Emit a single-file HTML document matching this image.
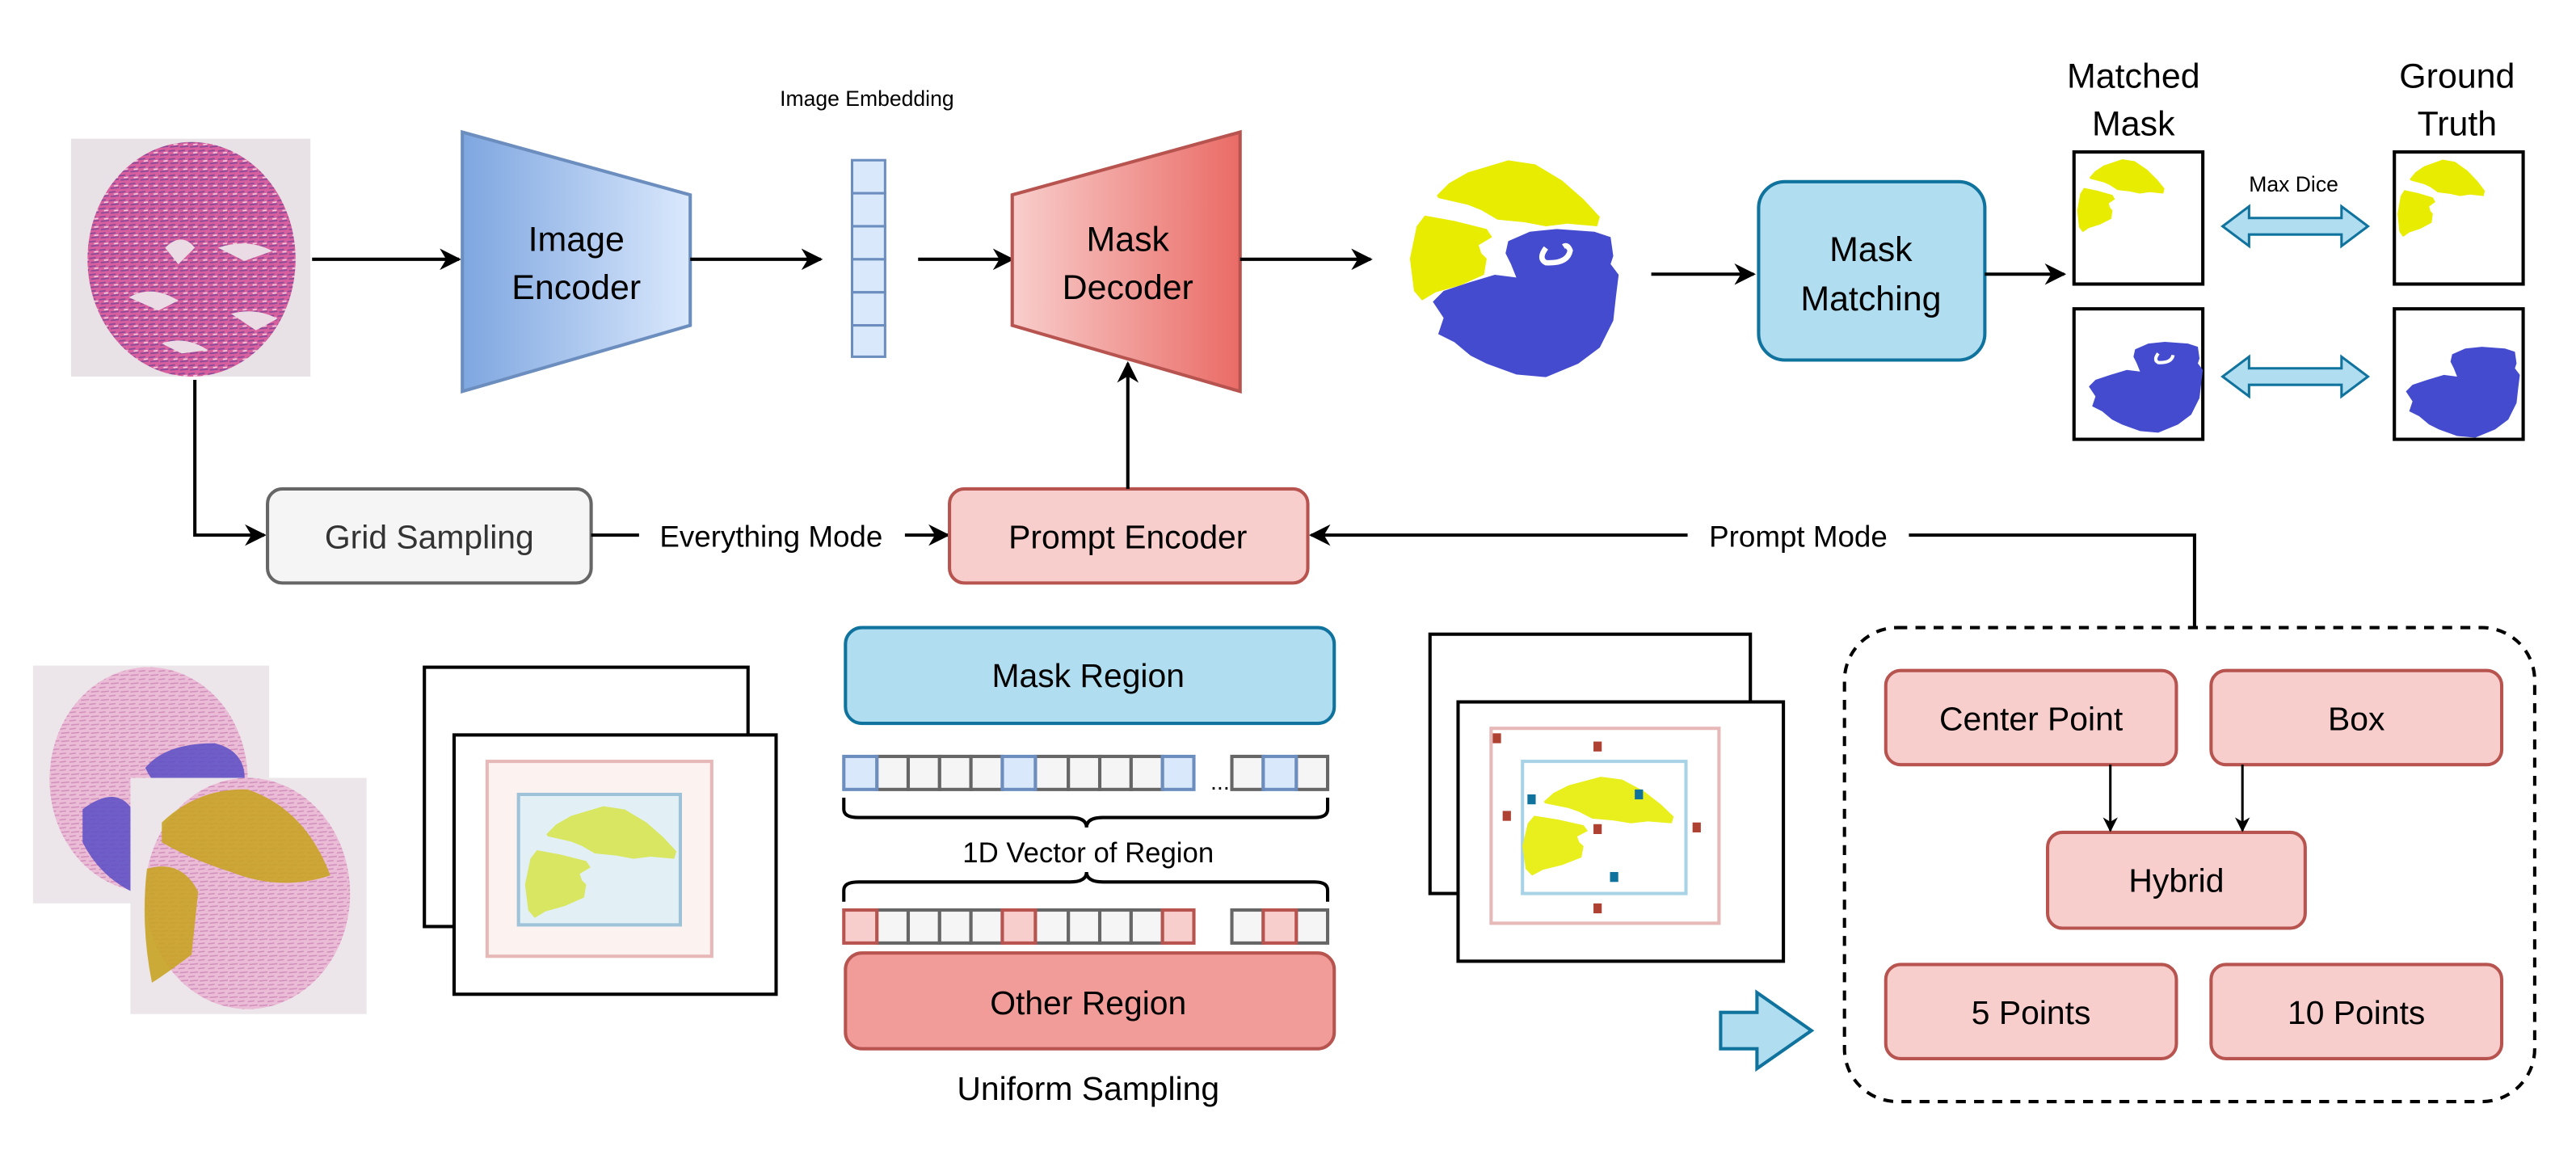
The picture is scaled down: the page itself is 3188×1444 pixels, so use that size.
<!DOCTYPE html>
<html><head><meta charset="utf-8"><style>
html,body{margin:0;padding:0;background:#fff;}
svg{display:block;}
text{font-family:"Liberation Sans",Arial,sans-serif;}
</style></head><body>
<svg width="3188" height="1444" viewBox="0 0 1560 706.6" xmlns="http://www.w3.org/2000/svg">
<defs>
<marker id="ar" viewBox="0 0 10 10" refX="9" refY="5" markerWidth="9" markerHeight="9" markerUnits="userSpaceOnUse" orient="auto">
<path d="M0,0 L10,5 L0,10 L3,5 Z" fill="#000"/></marker>
<marker id="ar2" viewBox="0 0 10 10" refX="9" refY="5" markerWidth="13" markerHeight="13" markerUnits="userSpaceOnUse" orient="auto">
<path d="M0,0 L10,5 L0,10 L3,5 Z" fill="#000"/></marker>
<linearGradient id="gb" x1="0" x2="1" y1="0" y2="0"><stop offset="0" stop-color="#7ea6e0"/><stop offset="1" stop-color="#dae8fc"/></linearGradient>
<linearGradient id="gr" x1="0" x2="1" y1="0" y2="0"><stop offset="0" stop-color="#f8cecc"/><stop offset="1" stop-color="#ea6b66"/></linearGradient>
<pattern id="tis" width="6" height="5" patternUnits="userSpaceOnUse">
<rect width="6" height="5" fill="#d9609e"/>
<path d="M0,1.5 L4,1 M1,4 L6,3.5" stroke="#8a4a98" stroke-width="0.9"/>
<path d="M3,2.6 L5.5,2.3" stroke="#f0d4e3" stroke-width="0.8"/>
</pattern>
<pattern id="tis2" width="6" height="5" patternUnits="userSpaceOnUse">
<rect width="6" height="5" fill="#ebbcd6"/>
<path d="M0,1.5 L4,1 M1,4 L6,3.5" stroke="#d08cbb" stroke-width="0.7"/>
</pattern>
<g id="yt"><path d="M115,185 L160,140 L230,100 L380,55 L480,70 L580,130 L660,200 L720,265 L710,300 L600,290 L520,300 L440,285 L340,275 L280,240 L230,220 L120,195 Z"/></g>
<g id="yl"><path d="M70,260 L180,280 L300,310 L320,340 L270,370 L280,400 L300,420 L290,480 L200,520 L110,545 L60,575 L30,540 L15,420 L40,300 Z"/></g>
<g id="bl"><path d="M380,355 L460,320 L560,310 L700,320 L760,340 L770,410 L760,440 L790,480 L780,560 L770,650 L720,750 L640,810 L520,860 L410,850 L300,810 L240,780 L180,730 L120,700 L140,640 L100,580 L140,540 L230,510 L330,480 L410,490 L390,440 L370,400 Z"/></g>
</defs>

<!-- input H&E -->
<rect x="43" y="84" width="145" height="144" fill="#e8e2e6"/>
<ellipse cx="116" cy="157" rx="63" ry="71" fill="url(#tis)"/>
<path d="M78,180 Q92,172 108,182 L96,188 Z M132,150 Q150,144 165,152 L148,158 Z M98,208 Q112,203 126,212 L110,214Z M140,190 Q155,186 168,193 L155,200Z M100,150 Q110,140 118,150 L108,160Z" fill="#eadbe4"/>

<!-- arrows top row -->
<line x1="189" y1="157" x2="278" y2="157" stroke="#000" stroke-width="2" marker-end="url(#ar2)"/>
<polygon points="280,80 418,118 418,197 280,237" fill="url(#gb)" stroke="#6c8ebf" stroke-width="2"/>
<text x="349" y="152" font-size="21" text-anchor="middle">Image</text>
<text x="349" y="181" font-size="21" text-anchor="middle">Encoder</text>
<line x1="418" y1="157" x2="497" y2="157" stroke="#000" stroke-width="2" marker-end="url(#ar2)"/>
<text x="525" y="64" font-size="13" text-anchor="middle">Image Embedding</text>
<g fill="#dae8fc" stroke="#6c8ebf" stroke-width="1.5">
<rect x="516" y="97" width="20" height="20"/><rect x="516" y="117" width="20" height="20"/><rect x="516" y="137" width="20" height="20"/><rect x="516" y="157" width="20" height="20"/><rect x="516" y="177" width="20" height="20"/><rect x="516" y="197" width="20" height="19"/>
</g>
<line x1="556" y1="157" x2="613" y2="157" stroke="#000" stroke-width="2" marker-end="url(#ar2)"/>
<polygon points="613,118 751,80 751,237 613,197" fill="url(#gr)" stroke="#b85450" stroke-width="2"/>
<text x="683" y="152" font-size="21" text-anchor="middle">Mask</text>
<text x="683" y="181" font-size="21" text-anchor="middle">Decoder</text>
<line x1="751" y1="157" x2="830" y2="157" stroke="#000" stroke-width="2" marker-end="url(#ar2)"/>

<!-- big mask -->
<g transform="translate(851.4,88.1) scale(0.1631)">
<use href="#yt" fill="#e8ec00"/><use href="#yl" fill="#e8ec00"/><use href="#bl" fill="#444bcf"/>
<path d="M520,380 Q490,420 520,435 Q600,440 610,390 Q600,365 585,375" fill="none" stroke="#fff" stroke-width="20"/>
</g>
<line x1="1000" y1="166" x2="1062" y2="166" stroke="#000" stroke-width="2" marker-end="url(#ar2)"/>
<rect x="1065" y="110" width="137" height="108" rx="16" fill="#b1ddf0" stroke="#10739e" stroke-width="2"/>
<text x="1133" y="158" font-size="21" text-anchor="middle">Mask</text>
<text x="1133" y="188" font-size="21" text-anchor="middle">Matching</text>
<line x1="1202" y1="166" x2="1250" y2="166" stroke="#000" stroke-width="2" marker-end="url(#ar2)"/>

<text x="1292" y="53" font-size="21" text-anchor="middle">Matched</text>
<text x="1292" y="82" font-size="21" text-anchor="middle">Mask</text>
<text x="1488" y="53" font-size="21" text-anchor="middle">Ground</text>
<text x="1488" y="82" font-size="21" text-anchor="middle">Truth</text>
<g fill="#fff" stroke="#000" stroke-width="2">
<rect x="1256" y="92" width="78" height="80"/><rect x="1256" y="187" width="78" height="79"/>
<rect x="1450" y="92" width="78" height="80"/><rect x="1450" y="187" width="78" height="79"/>
</g>
<g transform="translate(1256.8,91.7) scale(0.075,0.085)"><use href="#yt" fill="#e8ec00"/><use href="#yl" fill="#e8ec00"/></g>
<g transform="translate(1255,176) scale(0.1)"><use href="#bl" fill="#444bcf"/><path d="M520,380 Q490,420 520,435 Q600,440 610,390" fill="none" stroke="#fff" stroke-width="20"/></g>
<g transform="translate(1450.8,91.7) scale(0.075,0.09)"><use href="#yt" fill="#e8ec00"/><use href="#yl" fill="#e8ec00"/></g>
<g transform="translate(1447,179) scale(0.1)"><use href="#bl" fill="#444bcf"/></g>
<text x="1389" y="116" font-size="13" text-anchor="middle">Max Dice</text>
<g fill="#b1ddf0" stroke="#10739e" stroke-width="1.5">
<path d="M1346,137 L1362,125 L1362,132 L1418,132 L1418,125 L1434,137 L1418,149 L1418,142 L1362,142 L1362,149 Z"/>
<path d="M1346,228 L1362,216 L1362,223 L1418,223 L1418,216 L1434,228 L1418,240 L1418,233 L1362,233 L1362,240 Z"/>
</g>

<!-- middle row -->
<polyline points="118,230 118,324 160,324" fill="none" stroke="#000" stroke-width="2" marker-end="url(#ar2)"/>
<rect x="162" y="296" width="196" height="57" rx="9" fill="#f5f5f5" stroke="#666" stroke-width="2"/>
<text x="260" y="332" font-size="20" text-anchor="middle" fill="#333">Grid Sampling</text>
<line x1="358" y1="324" x2="574" y2="324" stroke="#000" stroke-width="2" marker-end="url(#ar2)"/>
<rect x="387" y="312" width="161" height="24" fill="#fff"/>
<text x="467" y="331" font-size="18" text-anchor="middle">Everything Mode</text>
<rect x="575" y="296" width="217" height="57" rx="9" fill="#f8cecc" stroke="#b85450" stroke-width="2"/>
<text x="683" y="332" font-size="20" text-anchor="middle">Prompt Encoder</text>
<line x1="683" y1="296" x2="683" y2="220" stroke="#000" stroke-width="2" marker-end="url(#ar2)"/>
<polyline points="1329,380 1329,324 794,324" fill="none" stroke="#000" stroke-width="2" marker-end="url(#ar2)"/>
<rect x="1022" y="312" width="134" height="24" fill="#fff"/>
<text x="1089" y="331" font-size="18" text-anchor="middle">Prompt Mode</text>

<!-- bottom left H&E stack -->
<rect x="20" y="403" width="143" height="144" fill="#ece6ea"/>
<ellipse cx="90" cy="472" rx="60" ry="68" fill="url(#tis2)"/>
<path d="M88,465 Q100,450 130,450 Q150,455 148,475 Q130,490 110,485 Q95,480 88,465 Z M50,490 Q70,475 80,490 L80,540 Q60,530 50,510 Z" fill="#5b4dc6" opacity="0.85"/>
<rect x="79" y="471" width="143" height="143" fill="#ece6ea"/>
<ellipse cx="150" cy="541" rx="62" ry="70" fill="url(#tis2)"/>
<path d="M98,498 Q120,477 150,478 Q185,490 200,530 Q170,540 140,528 Q115,520 98,510 Z" fill="#c9a325" opacity="0.9"/>
<path d="M89,526 Q110,520 120,540 L116,578 Q100,590 92,595 Q85,560 89,526 Z" fill="#c9a325" opacity="0.9"/>

<!-- left frames -->
<rect x="257" y="404" width="196" height="157" fill="#fff" stroke="#000" stroke-width="2"/>
<rect x="275" y="445" width="195" height="157" fill="#fff" stroke="#000" stroke-width="2"/>
<rect x="295" y="461" width="136" height="118" fill="#fcf3f1" stroke="#e6b8b7" stroke-width="2"/>
<rect x="314" y="481" width="98" height="79" fill="#e2f0f6" stroke="#9ec3d9" stroke-width="2"/>
<g transform="translate(316,481) scale(0.13,0.13)"><use href="#yt" fill="#d8e662"/><use href="#yl" fill="#d8e662"/></g>

<!-- region cells -->
<rect x="512" y="380" width="296" height="58" rx="10" fill="#b1ddf0" stroke="#10739e" stroke-width="2"/>
<text x="659" y="416" font-size="20" text-anchor="middle">Mask Region</text>
<g stroke-width="2">
<g fill="#f5f5f5" stroke="#666">
<rect x="531" y="458" width="19" height="20"/><rect x="550" y="458" width="19" height="20"/><rect x="569" y="458" width="19" height="20"/><rect x="588" y="458" width="19" height="20"/>
<rect x="627" y="458" width="20" height="20"/><rect x="647" y="458" width="19" height="20"/><rect x="666" y="458" width="19" height="20"/><rect x="685" y="458" width="19" height="20"/>
<rect x="746" y="458" width="19" height="20"/><rect x="785" y="458" width="19" height="20"/>
</g>
<g fill="#dae8fc" stroke="#6c8ebf">
<rect x="511" y="458" width="20" height="20"/><rect x="607" y="458" width="20" height="20"/><rect x="704" y="458" width="19" height="20"/><rect x="765" y="458" width="20" height="20"/>
</g>
<g fill="#f5f5f5" stroke="#666">
<rect x="531" y="551" width="19" height="20"/><rect x="550" y="551" width="19" height="20"/><rect x="569" y="551" width="19" height="20"/><rect x="588" y="551" width="19" height="20"/>
<rect x="627" y="551" width="20" height="20"/><rect x="647" y="551" width="19" height="20"/><rect x="666" y="551" width="19" height="20"/><rect x="685" y="551" width="19" height="20"/>
<rect x="746" y="551" width="19" height="20"/><rect x="785" y="551" width="19" height="20"/>
</g>
<g fill="#f8cecc" stroke="#b85450">
<rect x="511" y="551" width="20" height="20"/><rect x="607" y="551" width="20" height="20"/><rect x="704" y="551" width="19" height="20"/><rect x="765" y="551" width="20" height="20"/>
</g>
</g>
<text x="733" y="478" font-size="14">...</text>
<path d="M511,483 L511,490 Q511,495 520,495 L648,495 Q658,495 658,501 Q658,495 668,495 L796,495 Q804,495 804,490 L804,483" fill="none" stroke="#000" stroke-width="2"/>
<text x="659" y="522" font-size="17" text-anchor="middle">1D Vector of Region</text>
<path d="M511,546 L511,539 Q511,534 520,534 L648,534 Q658,534 658,528 Q658,534 668,534 L796,534 Q804,534 804,539 L804,546" fill="none" stroke="#000" stroke-width="2"/>
<rect x="512" y="577" width="296" height="58" rx="10" fill="#f19c99" stroke="#b85450" stroke-width="2"/>
<text x="659" y="614" font-size="20" text-anchor="middle">Other Region</text>
<text x="659" y="666" font-size="20" text-anchor="middle">Uniform Sampling</text>

<!-- right frames -->
<rect x="866" y="384" width="194" height="157" fill="#fff" stroke="#000" stroke-width="2"/>
<rect x="883" y="425" width="197" height="157" fill="#fff" stroke="#000" stroke-width="2"/>
<rect x="903" y="441" width="138" height="118" fill="#fff" stroke="#e6b8b7" stroke-width="2"/>
<rect x="922" y="461" width="99" height="80" fill="#fff" stroke="#a8d3e6" stroke-width="2"/>
<g transform="translate(920,464) scale(0.13,0.115)"><use href="#yt" fill="#e9ef1d"/><use href="#yl" fill="#e9ef1d"/></g>
<g fill="#ae4132">
<rect x="904" y="444" width="5" height="6"/><rect x="965" y="449" width="5" height="6"/><rect x="910" y="491" width="5" height="6"/>
<rect x="965" y="499" width="5" height="6"/><rect x="1025" y="498" width="5" height="6"/><rect x="965" y="547" width="5" height="6"/>
</g>
<g fill="#10739e">
<rect x="925" y="481" width="5" height="6"/><rect x="990" y="478" width="5" height="6"/><rect x="975" y="528" width="5" height="6"/>
</g>
<path d="M1042,613 L1064,613 L1064,601 L1097,624 L1064,647 L1064,635 L1042,635 Z" fill="#b1ddf0" stroke="#10739e" stroke-width="2"/>

<!-- prompt options -->
<rect x="1117" y="380" width="418" height="287" rx="32" fill="none" stroke="#000" stroke-width="2" stroke-dasharray="6,5"/>
<g fill="#f8cecc" stroke="#b85450" stroke-width="2">
<rect x="1142" y="406" width="176" height="57" rx="9"/>
<rect x="1339" y="406" width="176" height="57" rx="9"/>
<rect x="1240" y="504" width="156" height="58" rx="9"/>
<rect x="1142" y="584" width="176" height="57" rx="9"/>
<rect x="1339" y="584" width="176" height="57" rx="9"/>
</g>
<text x="1230" y="442" font-size="20" text-anchor="middle">Center Point</text>
<text x="1427" y="442" font-size="20" text-anchor="middle">Box</text>
<text x="1318" y="540" font-size="20" text-anchor="middle">Hybrid</text>
<text x="1230" y="620" font-size="20" text-anchor="middle">5 Points</text>
<text x="1427" y="620" font-size="20" text-anchor="middle">10 Points</text>
<line x1="1278" y1="463" x2="1278" y2="503" stroke="#000" stroke-width="1.5" marker-end="url(#ar)"/>
<line x1="1358" y1="463" x2="1358" y2="503" stroke="#000" stroke-width="1.5" marker-end="url(#ar)"/>
</svg>
</body></html>
